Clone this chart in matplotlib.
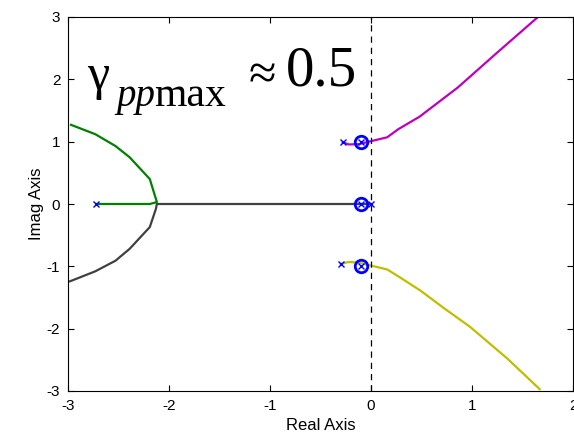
import matplotlib
matplotlib.use('Agg')
from matplotlib import pyplot as plt

plt.rcParams['axes.unicode_minus'] = False

# root locus branches
mag_re = [-0.28, -0.22, -0.12, -0.02, 0.16, 0.27, 0.48, 0.86, 1.25, 1.66]
mag_im = [0.99, 0.955, 0.96, 1.0, 1.07, 1.2, 1.40, 1.87, 2.43, 3.01]
yel_re = [-0.30, -0.22, -0.12, -0.02, 0.16, 0.27, 0.49, 0.73, 0.98, 1.35, 1.67]
yel_im = [-0.96, -0.93, -0.94, -0.98, -1.05, -1.16, -1.39, -1.68, -1.97, -2.48, -2.97]
grn_re = [-2.72, -2.19, -2.12, -2.19, -2.39, -2.53, -2.73, -2.97]
grn_im = [0.0, 0.0, 0.03, 0.40, 0.75, 0.93, 1.12, 1.27]
blk_re = [0.0, -2.12, -2.13, -2.19, -2.39, -2.53, -2.73, -2.98]
blk_im = [0.0, 0.0, -0.08, -0.37, -0.72, -0.91, -1.08, -1.24]

poles_re = [-0.28, -0.30, -2.72, 0.0, -0.1, -0.1, -0.1]
poles_im = [0.99, -0.96, 0.0, 0.0, 1.0, -1.0, 0.0]
zeros_re = [-0.1, -0.1, -0.1]
zeros_im = [1.0, 0.0, -1.0]

fig = plt.figure(figsize=(5.74, 4.34), dpi=100)
ax = fig.add_axes([68/574, 1-391/434, (573-68)/574, (391-17)/434])

ax.plot(mag_re, mag_im, color=(0.75, 0, 0.75), lw=1.6)
ax.plot(yel_re, yel_im, color=(0.75, 0.75, 0), lw=1.6)
ax.plot(grn_re, grn_im, color=(0, 0.5, 0), lw=1.6)
ax.plot(blk_re, blk_im, color=(0.25, 0.25, 0.25), lw=1.6)
ax.axvline(0, color='k', ls=(0, (5, 4)), lw=0.9)
ax.plot(zeros_re, zeros_im, 'o', ms=9, mfc='none', mec='b', mew=2)
ax.plot(poles_re, poles_im, 'x', ms=4, color='b', mew=1)

ax.set_xlim(-3, 2)
ax.set_ylim(-3, 3)
ax.set_xticks([-3, -2, -1, 0, 1, 2])
ax.set_yticks([-3, -2, -1, 0, 1, 2, 3])
ax.tick_params(direction='in', top=True, right=True, labelsize=11, length=4)
ax.tick_params(axis='x', pad=6)
ax.tick_params(axis='y', pad=5.5)
for t in ax.get_xticklabels() + ax.get_yticklabels():
    t.set_fontfamily('Liberation Sans')
ax.set_xlabel('Real Axis', fontsize=12, family='Liberation Sans', labelpad=3)
ax.set_ylabel('Imag Axis', fontsize=12, family='Liberation Sans', labelpad=2)

# annotation
serif = 'Liberation Serif'
fig.text(87/574, 1-89/434, '\u03b3', fontsize=36, family=serif, va='baseline')
fig.text(116/574, 1-106/434, 'pp', fontsize=28, family=serif, style='italic', va='baseline')
fig.text(154/574, 1-106/434, 'max', fontsize=30, family=serif, va='baseline')
fig.text(249/574, 1-89/434, '\u2248', fontsize=36, family=serif, va='baseline')
fig.text(286/574, 1-86/434, '0.5', fontsize=41, family=serif, va='baseline')

fig.savefig('out.png', dpi=100)
